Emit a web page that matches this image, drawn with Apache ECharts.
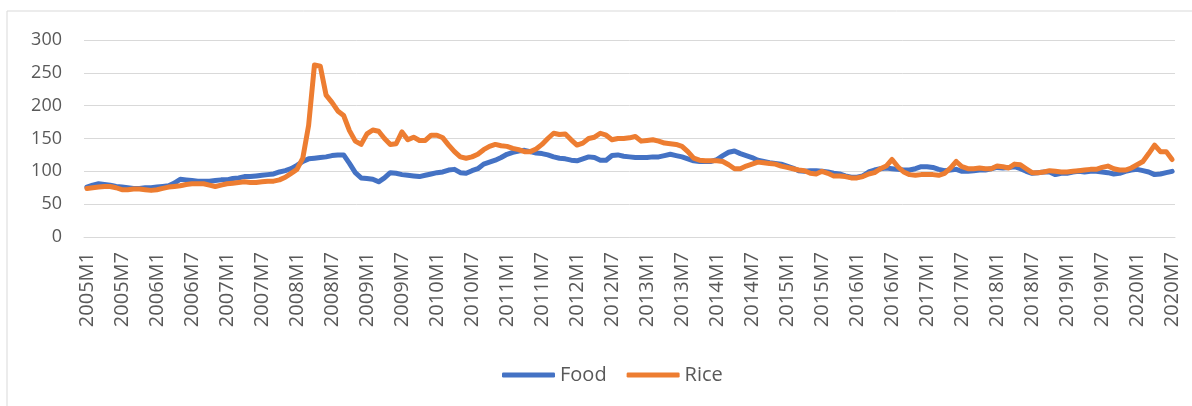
<!DOCTYPE html>
<html>
<head>
<meta charset="utf-8">
<script src="https://cdn.jsdelivr.net/npm/echarts@6/dist/echarts.min.js"></script>
<style>
  html, body { margin: 0; padding: 0; background: #fff; }
  #chart { width: 1192px; height: 406px; }
</style>
</head>
<body>
<div id="chart"></div>
<script>
// monthly categories 2005M1 .. 2020M7
const meses = [];
for (let ano = 2005; ano <= 2020; ano++) {
  for (let m = 1; m <= 12; m++) {
    if (ano === 2020 && m > 7) break;
    meses.push(ano + 'M' + m);
  }
}

const food = [
  76, 79, 81, 80, 79, 77, 76, 75, 74, 74, 75, 75,          // 2005
  76, 77, 78, 82, 88, 87, 86, 85, 85, 85, 86, 87,          // 2006
  87, 89, 90, 92, 92, 93, 94, 95, 96, 99, 101, 104,        // 2007
  109, 115, 119, 120, 121, 122, 124, 125, 125, 112, 98, 90, // 2008
  89, 88, 84, 90, 98, 97, 95, 94, 93, 92, 94, 96,          // 2009
  98, 99, 102, 103, 98, 97, 101, 104, 111, 114, 117, 121,  // 2010
  126, 129, 131, 132, 130, 128, 127, 125, 122, 120, 119, 117, // 2011
  116, 119, 122, 121, 117, 117, 124, 125, 123, 122, 121, 121, // 2012
  121, 122, 122, 124, 126, 124, 122, 119, 116, 115, 115, 115, // 2013
  118, 124, 129, 131, 127, 124, 121, 117, 115, 113, 112, 111, // 2014
  108, 105, 101, 100, 101, 101, 100, 99, 97, 96, 93, 91,   // 2015
  91, 93, 99, 102, 104, 105, 104, 103, 102, 102, 104, 107, // 2016
  107, 106, 103, 101, 102, 103, 100, 100, 101, 102, 102, 104, // 2017
  106, 105, 106, 107, 104, 100, 97, 98, 99, 99, 95, 97,    // 2018
  97, 99, 100, 99, 100, 100, 99, 98, 96, 97, 100, 102,     // 2019
  103, 101, 99, 95, 96, 98, 100                            // 2020
];

const rice = [
  74, 75, 76, 77, 77, 75, 72, 72, 73, 73, 72, 71,          // 2005
  72, 74, 76, 77, 78, 80, 81, 81, 81, 79, 77, 79,          // 2006
  81, 82, 83, 84, 83, 83, 84, 85, 85, 87, 91, 97,          // 2007
  103, 120, 170, 262, 260, 216, 205, 192, 185, 162, 146, 141, // 2008
  157, 163, 161, 150, 141, 142, 160, 148, 152, 147, 147, 155, // 2009
  155, 151, 140, 130, 122, 120, 122, 126, 133, 138, 141, 139, // 2010
  138, 135, 133, 130, 130, 134, 141, 150, 158, 156, 157, 148, // 2011
  140, 143, 150, 152, 158, 155, 148, 150, 150, 151, 153, 146, // 2012
  147, 148, 146, 143, 142, 141, 138, 130, 120, 117, 116, 116, // 2013
  116, 115, 110, 104, 104, 108, 111, 114, 113, 112, 111, 108, // 2014
  106, 104, 102, 101, 97, 96, 100, 97, 93, 93, 92, 90,     // 2015
  90, 92, 96, 98, 104, 108, 118, 107, 99, 95, 94, 95,      // 2016
  95, 95, 94, 97, 105, 115, 107, 104, 104, 105, 104, 104,  // 2017
  108, 107, 105, 111, 110, 104, 98, 98, 99, 101, 100, 99,  // 2018
  99, 100, 101, 102, 103, 103, 106, 108, 104, 102, 102, 105, // 2019
  110, 115, 127, 140, 130, 130, 118                        // 2020
];

const chart = echarts.init(document.getElementById('chart'));

const fonte = '"Open Sans", "Liberation Sans", sans-serif';
const cinza = '#595959';

chart.setOption({
  animation: false,
  backgroundColor: '#ffffff',
  graphic: [{
    type: 'rect',
    shape: { x: 7, y: 11, width: 1220, height: 440 },
    style: { fill: 'none', stroke: '#d9d9d9', lineWidth: 1 },
    silent: true
  }],
  grid: { left: 84, right: 17, top: 40, bottom: 169 },
  legend: {
    bottom: 16,
    left: 497,
    icon: 'roundRect',
    itemWidth: 53,
    itemHeight: 5,
    itemGap: 20,
    textStyle: { color: cinza, fontSize: 20, fontFamily: fonte },
    data: ['Food', 'Rice']
  },
  xAxis: {
    type: 'category',
    data: meses,
    boundaryGap: true,
    axisLine: { show: true, lineStyle: { color: '#d9d9d9', width: 1 } },
    axisTick: { show: false },
    axisLabel: {
      interval: 5,
      rotate: 90,
      margin: 15,
      color: cinza,
      fontSize: 20,
      fontFamily: fonte
    }
  },
  yAxis: {
    type: 'value',
    min: 0,
    max: 300,
    interval: 50,
    axisLine: { show: false },
    axisTick: { show: false },
    axisLabel: { margin: 22, color: cinza, fontSize: 18, fontFamily: fonte },
    splitLine: { lineStyle: { color: '#d9d9d9', width: 1 } }
  },
  series: [
    {
      name: 'Food',
      type: 'line',
      data: food,
      showSymbol: false,
      color: '#4472C4',
      lineStyle: { color: '#4472C4', width: 5, cap: 'round', join: 'round' }
    },
    {
      name: 'Rice',
      type: 'line',
      data: rice,
      showSymbol: false,
      color: '#ED7D31',
      lineStyle: { color: '#ED7D31', width: 5, cap: 'round', join: 'round' }
    }
  ]
});
</script>
</body>
</html>
